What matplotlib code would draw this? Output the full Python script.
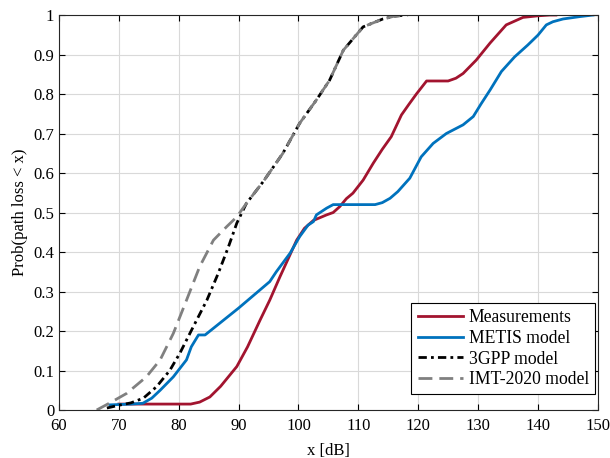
import matplotlib.pyplot as plt
import numpy as np

plt.rcParams['font.family'] = ['Liberation Serif', 'DejaVu Serif']

# path loss (dB) / CDF values
meas_x = [70, 74, 80, 82, 83.5, 85.2, 87, 89.7, 91.5, 93.6, 95.2, 96.9, 98.5, 99.7, 101,
          102.5, 104.7, 105.8, 106.9, 108, 109.1, 110.8, 112.5, 114, 115.5, 117.2,
          118.5, 119.7, 121.4, 123, 125, 126.3, 127.5, 129.7, 132, 134.7, 137.5, 140, 142, 143]
meas_y = [0.015, 0.015, 0.015, 0.015, 0.02, 0.033, 0.06, 0.11, 0.16, 0.228, 0.278, 0.337, 0.39, 0.43, 0.46,
          0.48, 0.494, 0.5, 0.515, 0.535, 0.549, 0.582, 0.625, 0.66, 0.692, 0.747,
          0.775, 0.8, 0.833, 0.833, 0.833, 0.84, 0.852, 0.886, 0.929, 0.975, 0.994, 0.998, 1.0, 1.0]

metis_x = [68.5, 72, 74, 75.5, 76.9, 79.1, 81.3, 82.1, 83.3, 84.4, 90, 95.2, 96.3, 98.6,
           100.2, 101.6, 102.5, 103, 104.7, 105.8, 109, 112.8, 114, 115.3, 116.6, 118.6,
           120.5, 122.5, 124.7, 127.5, 129.2, 130.5, 132, 133.9, 136.1, 138.3, 140, 141.4,
           142.5, 144.2, 147, 149.2]
metis_y = [0.013, 0.015, 0.017, 0.03, 0.05, 0.084, 0.127, 0.16, 0.19, 0.19, 0.258, 0.325, 0.35, 0.397,
           0.439, 0.468, 0.477, 0.494, 0.511, 0.52, 0.52, 0.52, 0.525, 0.536, 0.553, 0.587,
           0.641, 0.675, 0.70, 0.722, 0.743, 0.775, 0.81, 0.857, 0.894, 0.924, 0.949, 0.975,
           0.983, 0.99, 0.996, 1.0]

gpp_x = [68, 70, 72, 74.1, 76.3, 78.5, 80.2, 82.4, 84.7, 86.6, 88.3, 89.7, 91.3, 94.1,
         97.4, 100.2, 103, 105.2, 107.5, 110.8, 114.1, 116, 118]
gpp_y = [0.005, 0.012, 0.018, 0.03, 0.059, 0.10, 0.144, 0.21, 0.278, 0.346, 0.413, 0.473, 0.523, 0.578,
         0.65, 0.726, 0.785, 0.835, 0.911, 0.97, 0.99, 0.997, 1.0]

imt_x = [66.3, 68.5, 71.3, 74.6, 76.9, 79.1, 81.3, 83.5, 85.8, 88, 89.7, 91.3, 94.1,
         97.4, 100.2, 103, 105.2, 107.5, 110.8, 114.1, 116, 118.3]
imt_y = [0.0, 0.018, 0.042, 0.084, 0.127, 0.194, 0.278, 0.363, 0.43, 0.464, 0.489, 0.523, 0.578,
         0.65, 0.726, 0.785, 0.835, 0.911, 0.97, 0.99, 0.997, 1.0]

fig = plt.figure(figsize=(6.1, 4.58), dpi=100)
ax = fig.add_axes([0.0967, 0.1048, 0.8833, 0.8624])

ax.plot(meas_x, meas_y, color='#A2142F', lw=2, label='Measurements')
ax.plot(metis_x, metis_y, color='#0072BD', lw=2, label='METIS model')
ax.plot(gpp_x, gpp_y, color='black', lw=2, ls=(0, (3, 1.5, 1, 1.5)), label='3GPP model')
ax.plot(imt_x, imt_y, color='#808080', lw=2, ls=(0, (5, 2.5)), label='IMT-2020 model')

ax.set_xlim(60, 150)
ax.set_ylim(0, 1)
ax.set_xticks(np.arange(60, 151, 10))
ax.set_yticks(np.arange(0, 1.01, 0.1))
ax.set_yticklabels(['0', '0.1', '0.2', '0.3', '0.4', '0.5', '0.6', '0.7', '0.8', '0.9', '1'])
ax.tick_params(direction='in', top=True, right=True, labelsize=12, width=0.8, length=4)
ax.tick_params(axis='x', pad=6)
ax.grid(True, color='#d9d9d9', lw=0.8)
for s in ax.spines.values():
    s.set_linewidth(0.8)
    s.set_color('#262626')

ax.set_xlabel('x [dB]', fontsize=12, labelpad=6)
ax.set_ylabel('Prob(path loss < x)', fontsize=12, labelpad=4)

leg = ax.legend(loc='lower right', bbox_to_anchor=(0.995, 0.04), fontsize=12.7, fancybox=False,
                edgecolor='black', framealpha=1, handlelength=2.6, handletextpad=0.3,
                borderpad=0.35, labelspacing=0.2, borderaxespad=0)
leg.get_frame().set_linewidth(0.8)

plt.savefig('out.png', dpi=100)
